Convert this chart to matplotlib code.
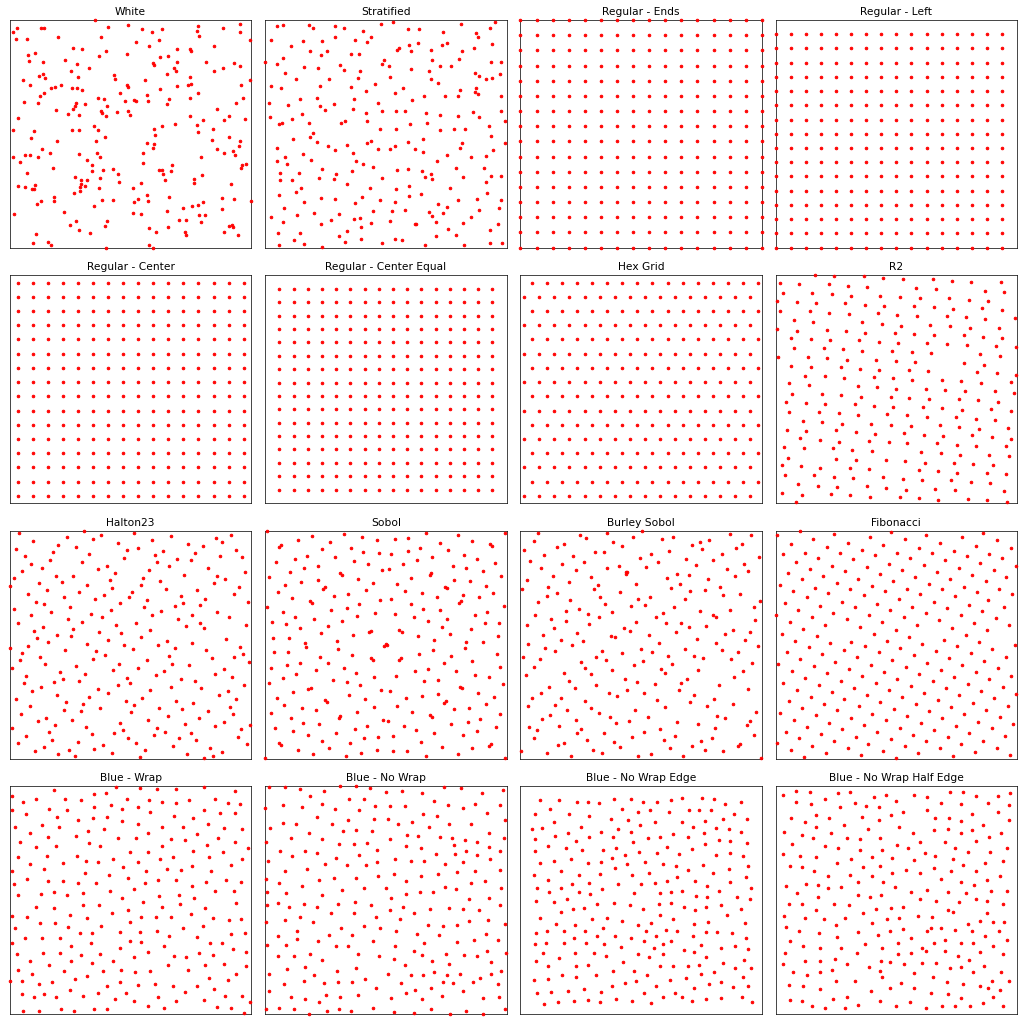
import numpy as np
import matplotlib
matplotlib.use('Agg')
import matplotlib.pyplot as plt

# all coordinates are in percent of the unit square (0..100)

titles = ['White', 'Stratified', 'Regular - Ends', 'Regular - Left',
          'Regular - Center', 'Regular - Center Equal', 'Hex Grid', 'R2',
          'Halton23', 'Sobol', 'Burley Sobol', 'Fibonacci',
          'Blue - Wrap', 'Blue - No Wrap', 'Blue - No Wrap Edge', 'Blue - No Wrap Half Edge']

# regular grids: values along one axis
grid_ends = [0, 6.67, 13.33, 20, 26.67, 33.33, 40, 46.67, 53.33, 60, 66.67, 73.33, 80, 86.67, 93.33, 100]
grid_left = [0, 6.25, 12.5, 18.75, 25, 31.25, 37.5, 43.75, 50, 56.25, 62.5, 68.75, 75, 81.25, 87.5, 93.75]
grid_center = [3.125, 9.375, 15.625, 21.875, 28.125, 34.375, 40.625, 46.875,
               53.125, 59.375, 65.625, 71.875, 78.125, 84.375, 90.625, 96.875]
grid_center_equal = [5.88, 11.76, 17.65, 23.53, 29.41, 35.29, 41.18, 47.06,
                     52.94, 58.82, 64.71, 70.59, 76.47, 82.35, 88.24, 94.12]

hex_y = [3.125, 9.375, 15.625, 21.875, 28.125, 34.375, 40.625, 46.875,
         53.125, 59.375, 65.625, 71.875, 78.125, 84.375, 90.625, 96.875]
hex_x_a = [1.56, 7.81, 14.06, 20.31, 26.56, 32.81, 39.06, 45.31,
           51.56, 57.81, 64.06, 70.31, 76.56, 82.81, 89.06, 95.31]
hex_x_b = [4.69, 10.94, 17.19, 23.44, 29.69, 35.94, 42.19, 48.44,
           54.69, 60.94, 67.19, 73.44, 79.69, 85.94, 92.19, 98.44]

white = [(35.3,100),(1.2,94.9),(2.9,96.6),(13,96.6),(14.3,96.3),(2.5,91.8),(7.2,91.5),(19.7,92.4),(40.6,97.1),
 (37.8,92.7),(49,97.8),(54.8,95.9),(59,94.7),(63.2,96.1),(61.8,91.4),(52.1,90.2),(57.8,88.5),(78.1,97.2),
 (77.5,95),(78.3,93.1),(88.4,96.6),(95.2,98.4),(95.4,94.7),(99.6,91.2),(84.7,88.7),(69.2,87.1),(74.5,87.3),
 (74.9,86.5),(26.3,87.9),(29.8,87.4),(39.6,86.5),(36.9,84.2),(48.3,85.1),(7.3,84.6),(10.3,85.4),(7.9,82),
 (13.5,81.7),(22.6,82.6),(27.6,80.6),(62.1,83.9),(65.5,84.2),(59.2,81),(59.6,80.3),(69.1,81.4),(68,78.9),
 (68.8,77.5),(64.9,76.3),(81.2,81.7),(92.9,81.1),(95.2,80),(88.1,78.7),(84.7,77.5),(25.1,77.5),(28.1,75.1),
 (32.7,78.7),(11.9,75.4),(13.8,76.3),(14.6,74.4),(43,76),(43.4,74.1),(5.4,73.8),(56.1,73.5),(74.8,74.9),
 (73.6,71.3),(75,71.8),(99.6,73.5),(95.9,71.5),(8.4,71.3),(17.1,70.3),(18.8,70.5),(21.1,71.5),(25.5,70.2),
 (27.6,70.2),(29.8,69.3),(48.4,71.6),(48.9,70.5),(62.2,69.7),(69.2,71.1),(77.9,68.1),(74.8,65.9),(96.7,65.9),
 (93.7,63.7),(45.4,67.8),(56.7,67),(57.2,64.5),(51.4,64.9),(52.1,64.6),(36.4,65.5),(39,65.4),(40.1,62.4),
 (47.6,64.2),(65.9,65.4),(64.9,62.9),(12.3,66.5),(14.3,67.7),(5.7,63.9),(11.6,63.5),(27.4,63.5),(26.8,62.1),
 (26.1,60.9),(30.9,62.9),(19.2,60.5),(23.9,58.9),(28.4,58.3),(37.9,59.8),(38.1,59.1),(39.7,57.7),(44.3,59.4),
 (48.8,59.9),(49.8,58.3),(85.7,60.8),(90.9,58),(88.8,56),(97.5,56.6),(80.1,56.1),(74.5,57.7),(68.4,54.1),
 (3.4,57),(1.2,51.8),(9.9,51.2),(8.6,48.2),(25.8,51.8),(28.8,51.6),(34.8,53.5),(36.6,51.5),(39.3,48.4),
 (35.7,46.6),(19.4,46.9),(59.6,52),(62.8,53.2),(60.1,49.4),(77.5,53.9),(77.8,50.9),(84.3,52.3),(83.9,47.2),
 (90.6,48.4),(95.4,46.9),(94.9,44.4),(92.6,42.3),(93.1,40.5),(85.8,43.3),(88.6,41.5),(97.8,36.7),(96,36.3),
 (95.6,34.9),(99.7,20.6),(79,39.6),(79.7,31.7),(56.6,45.9),(59.5,45.3),(59.2,43.7),(55.2,41.7),(55,37.1),
 (67.2,36.3),(66.9,33.6),(61.9,34.1),(62.9,34.1),(63.3,32.2),(64.3,29.7),(1.2,39.9),(6.3,40.8),(8.1,40.5),
 (4.1,37.6),(13.2,43.3),(11.7,39.6),(16.6,41.7),(17.8,35.1),(28.8,41.1),(35.9,41.7),(37.2,39.6),(32.1,38.3),
 (33.8,36.3),(34.1,33.5),(38.5,34.2),(42.5,34.6),(44.7,32.5),(45.2,28.8),(6.9,32.6),(3.2,26.9),(6.3,26.5),
 (9.2,25.6),(10.1,25.7),(10.5,27.6),(26.9,30.8),(29.5,29.7),(29.5,28),(29.2,26.5),(31.2,26.9),(31.9,29.7),
 (29.1,25),(26.6,24),(37.2,30.4),(36.7,26),(50.8,26),(54.1,28.2),(76.1,30.3),(76.4,28.5),(91.7,27.9),
 (87.7,21.9),(92.7,21.5),(56.8,23),(53.2,21.2),(51.6,20),(57.4,20.5),(66.1,22.4),(18.1,22.4),(18.1,20.3),
 (13,20.3),(11.3,19.2),(38.1,20.8),(42.9,20.8),(35,18.1),(1.5,14.8),(22.3,15.8),(51,15.1),(54.1,14.6),
 (65.2,16.1),(71.9,17.5),(75.3,18.4),(77.9,18.6),(80,20),(78.2,14.5),(80.7,14.2),(88,16.8),(70.1,12.1),
 (73.1,12),(79.3,11.3),(40.1,11.5),(39.2,9.4),(27.3,11.5),(25,9.9),(28.8,7.6),(33.2,6.3),(65.5,8.8),
 (57.5,8.5),(60.7,7),(72.6,6.9),(72.8,5.3),(88.7,7),(90.6,9.6),(92.1,9.8),(92.5,9.2),(94.3,5.7),(10.8,5.8),
 (9.5,1.8),(15.6,2.6),(16.9,1.2),(39.6,0),(57.5,1.2),(59.4,0)]

stratified = [(4.8,97.2),(7.4,97.8),(18.3,97.8),(20,96.6),(28.8,97.5),(32.8,96.3),(40.6,95.3),(43.7,92.7),
 (42.3,90.5),(37.4,91.1),(29.1,92.4),(23.7,90.8),(15.7,90.8),(2.2,91.1),(10.5,88.5),(48,98.1),(53.1,99),
 (59.2,95.9),(63.7,96.2),(73.6,94.9),(81.1,98.1),(87.2,94.2),(88,92.4),(93.1,96.3),(95.2,99),(93.8,89.6),
 (63.5,89.9),(59.6,89),(73.3,89),(75.4,89.9),(86.6,87.6),(54.6,87),(55.6,87.6),(60.3,86.3),(68.6,86.8),
 (81.5,86.3),(18.6,86.3),(25.4,86.3),(23.2,84.6),(35.7,85.1),(38.9,85.1),(7.3,83.2),(0,81.4),(4.8,80.7),
 (15.9,79.2),(21.7,78.9),(31,80.3),(32.7,78.1),(39.4,77.5),(38.6,74.7),(49.1,82.3),(48.3,80.6),(51.2,80),
 (60.6,78.4),(69,82.3),(72.6,79.7),(76.9,79.7),(80.4,82.9),(93.5,81.7),(97.8,81.4),(8,76.9),(12.8,74.1),
 (26.3,74.1),(51.7,75),(68,77.5),(68.7,74.1),(71.7,72.2),(86.8,76.6),(88.6,75.6),(91.4,74.1),(94.1,74.4),
 (97.1,76.3),(2.5,71.1),(6.6,69.9),(22.9,71.2),(35.5,70.5),(41.7,68.7),(45.5,71.8),(57.2,70.2),(53.8,67.8),
 (80.7,69.4),(87.2,70.2),(87,68.3),(88,67.3),(97.7,66.5),(1.7,63.7),(9.4,62.6),(14.6,65.1),(21.4,65.6),
 (22.8,62),(24.9,60.5),(28.3,62.9),(36.7,65.1),(36.4,61.1),(41.8,59.1),(46.9,63.5),(48.6,60.2),(54.3,59.9),
 (57.8,60.2),(61,64.9),(65.9,66.8),(74.5,66.8),(80.1,66.8),(66.6,59.1),(72.3,58.3),(79.7,58),(86.1,59.6),
 (88.8,57.2),(97.8,60.2),(99.3,55.4),(1.9,57.5),(5.5,54.2),(6.9,54.8),(11.2,56.6),(15.4,58.9),(18.3,54.7),
 (31.2,54.8),(33.1,55.7),(42.3,55.4),(47.4,52),(54.1,52.3),(60,54.4),(67.2,54.8),(72.3,51.8),(78.1,52),
 (82.6,52.3),(92.6,53.5),(93.4,49),(18.5,48.5),(20,50.4),(11.4,47.5),(21.5,46.2),(26.2,44.7),(28.8,43),
 (33.9,45),(36.3,41.7),(42.3,45.9),(44,46.6),(46.6,43.3),(51.6,43.3),(53.9,44.7),(59.2,46.5),(62.1,43.3),
 (65.5,47.8),(81.5,45.9),(80.9,43.9),(94.5,43),(99.4,45.9),(4.8,43.9),(4.8,38),(8,39.6),(8.9,36.8),
 (15.6,41.2),(18.9,38.5),(37.5,38),(40.6,36.5),(65.5,41.8),(71.2,38),(75.4,40.5),(85.2,39.9),(91.7,40.2),
 (90.8,35.1),(79,34.8),(6.2,32.6),(6.1,29.5),(11.2,29.8),(13.9,32.9),(23.7,34.4),(22.1,30.4),(29.5,32.3),
 (28.6,30.1),(35.9,33.8),(44.8,35.4),(48.3,30.4),(54.6,34.1),(59.2,34.5),(64.9,33.5),(66.3,30.8),(68.8,32.3),
 (69.2,30.1),(81.9,31),(93.5,31.6),(91.7,28.9),(97.8,31.6),(33.7,27.9),(43.6,26.3),(59.4,27.2),(54.3,25.9),
 (76.7,26.3),(5.7,23),(12.6,24.4),(14.9,26),(23.2,21.6),(29.1,21.3),(40.1,22.4),(37.4,19.7),(47.4,20.8),
 (53.8,19.9),(59.7,22.7),(64.6,23.4),(71.7,19),(79.7,21.1),(75.2,17.8),(87.6,21.3),(92.1,23.8),(97.9,20.9),
 (96.7,17.4),(88.6,16.7),(7.7,17.4),(16,20.2),(2.2,13.5),(7.2,11.4),(13.1,14.5),(20.3,15.2),(23.2,10.5),
 (27.4,12.3),(30.5,14.8),(36.7,12.6),(39.4,12.9),(39.7,8.9),(44,10.8),(44.8,16.2),(51.6,11.7),(52.6,15.9),
 (57.8,16.7),(62.1,10.5),(62.6,10.2),(67.7,15.4),(69.1,13.9),(70.6,11.1),(73.7,15.2),(81.8,10.7),(85.1,13.5),
 (96.4,10.5),(93.1,7.9),(75.6,8),(78.9,5.6),(70.6,5),(5.1,6.3),(14.5,6.4),(12,3.2),(5.7,1.3),(16,1.6),
 (23.4,0.4),(30.5,5),(33.7,7.2),(33.1,2.3),(39.7,3.8),(48.6,2),(53.8,3.8),(56.6,3.5),(66.1,1.3),(82.2,1),
 (93.2,1.9),(98.3,2)]

r2 = [(16.3,100),(24.3,99.6),(36.6,99.6),(44.6,99),(52.8,98.4),(65.1,98.4),(73.1,97.8),(81.1,97.2),(93.2,97.2),
 (1.7,96.6),(9.7,96.1),(21.9,96.2),(29.9,95.6),(37.9,95),(58.2,94.4),(66.5,93.9),(86.6,93.3),(94.6,92.7),
 (3,92.1),(15.2,92.3),(23.2,91.7),(31.2,91.1),(43.4,91.1),(51.4,90.5),(59.7,89.9),(71.9,89.9),(80,89.3),
 (88,88.7),(0.6,88.7),(8.7,88.2),(16.6,87.7),(28.8,87.9),(36.8,87.1),(44.8,86.5),(57.2,86.8),(65.4,86),
 (73.4,85.4),(85.5,85.7),(93.7,84.8),(1.9,84.2),(14.2,84.5),(22.2,83.6),(30.2,83),(42.3,83.3),(50.3,82.7),
 (58.5,82),(70.9,82.2),(78.9,81.6),(86.9,80.8),(99.3,81.1),(7.4,80.4),(15.4,79.7),(35.9,79.4),(43.9,78.8),
 (51.9,77.9),(64.1,78.2),(72.3,77.6),(80.4,76.8),(92.6,77),(0.7,76.6),(8.8,75.8),(21.1,76),(29.1,75.4),
 (37.1,74.6),(49.4,74.9),(57.4,74.3),(65.4,73.7),(77.9,73.7),(85.8,73.1),(93.9,72.5),(6.5,72.7),(14.5,72.1),
 (22.5,71.5),(34.7,71.5),(42.6,70.9),(50.6,70.3),(62.9,70.3),(71,69.9),(79.3,69.3),(91.4,69.2),(99.6,68.6),
 (7.7,68.1),(20,68.1),(27.9,67.5),(35.9,66.9),(48.3,66.9),(56.3,66.4),(64.3,65.8),(84.8,65.4),(92.8,64.8),
 (1.1,64.2),(13.4,64.2),(21.4,63.6),(29.4,63),(41.7,63),(49.7,62.4),(57.7,61.8),(77.9,61.4),(86.2,60.8),
 (6.5,60.2),(14.8,59.6),(26.9,59.9),(34.9,59.1),(42.9,58.5),(55.3,58.5),(63.3,57.9),(83.6,57.6),(91.9,57.2),
 (99.7,56.3),(12,55.8),(20.3,55.8),(28.3,55.1),(40.6,55.4),(48.6,54.8),(56.6,53.9),(68.8,54.2),(76.8,53.7),
 (85.1,52.8),(97.5,53.1),(5.4,52.6),(13.7,51.9),(33.9,51.3),(41.8,50.9),(49.9,50),(62.2,50.3),(70.2,49.7),
 (78.3,49.1),(90.8,49.1),(98.8,48.5),(6.8,48),(19.2,48),(27.2,47.4),(35.2,46.8),(47.6,46.8),(55.4,46.2),
 (63.4,45.8),(75.9,45.8),(83.9,45.2),(92,44.6),(4.3,44.6),(12.4,44),(20.6,43.4),(32.8,43.4),(40.8,42.8),
 (48.8,42.3),(61.1,42.4),(69.1,41.8),(77.2,41.1),(89.1,41.2),(97.5,40.5),(5.7,40.1),(17.9,40.1),(26.2,39.5),
 (34.2,38.9),(46.3,39.2),(54.3,38.6),(62.5,37.7),(74.8,38),(82.8,37.1),(90.9,36.5),(11.3,36.1),(19.3,35.5),
 (27.6,34.9),(39.6,34.9),(47.6,34.4),(55.9,33.8),(68.1,34.1),(76.1,33.2),(84.1,32.6),(96.3,32.9),(4.6,32.2),
 (12.7,31.6),(24.8,31.9),(33.1,31),(41.1,30.4),(53.2,30.7),(61.3,30.1),(69.4,29.4),(81.5,29.7),(89.8,28.8),
 (97.7,28.2),(10.2,28.5),(18.2,27.9),(26.3,27),(38.6,27.3),(46.8,26.8),(54.6,26.2),(66.9,26.5),(75,25.6),
 (83,25.1),(95.3,25.1),(3.6,24.6),(11.6,24),(23.7,24),(31.7,23.4),(40.1,22.8),(60.3,22.4),(68.3,21.8),
 (76.3,21.2),(88.6,21.2),(96.6,20.6),(5,20),(25.1,19.4),(33.4,18.9),(45.7,18.9),(53.7,18.3),(61.7,17.8),
 (73.8,17.8),(81.8,17.3),(89.9,16.7),(2.5,16.7),(10.5,16.1),(18.5,15.5),(30.6,15.5),(38.6,14.9),(59.2,14.5),
 (67.3,13.9),(75.3,13.3),(87.4,13.3),(95.6,12.7),(3.7,12.1),(16,12.4),(24,11.5),(32,10.9),(44.3,11.3),
 (52.6,10.4),(60.7,9.9),(72.8,10.2),(80.8,9.4),(88.8,8.8),(9.4,8.5),(17.4,7.6),(25.4,7),(37.7,7.3),
 (45.8,6.4),(53.8,5.8),(66.1,6.1),(74.1,5.6),(94.5,5.1),(2.8,4.2),(10.8,3.7),(22.9,3.9),(30.9,3.4),
 (38.9,2.5),(51.4,2.8),(59.4,2.2),(67.4,1.5),(79.7,1.8),(87.7,1.2),(95.9,0.3),(8.3,0.6)]

halton23 = [(3.7,99),(30.5,99.9),(51.6,99.3),(66.9,97.6),(91.7,98.4),(9.5,95.6),(23.6,97.2),(34.3,96.3),
 (37.8,98.1),(44.8,94.7),(59,96.2),(73.9,94.4),(85.4,96.9),(88,95.3),(2.6,92.1),(6.3,89),(17.9,90.8),
 (20.1,93.9),(27.2,93),(32.9,89.9),(48.3,91.7),(47.2,88.3),(53,92.7),(60,89.3),(63.4,91.1),(69.2,87.7),
 (76.8,90.2),(75.2,87.1),(80,93.6),(86.9,89),(93.8,91.8),(96.1,88.5),(16.7,87.4),(8.6,85.7),(13.2,83.9),
 (4.9,82.6),(1.5,79.2),(0.1,75.9),(29.7,86.5),(36.4,83.2),(40,84.8),(43.7,81.7),(19.2,80.4),(26.1,80),
 (11.9,77.3),(21.4,77.5),(31.9,76.2),(41.4,78.4),(42.3,75),(61.1,86.3),(57.5,82.9),(55.3,79.5),(54.1,76.2),
 (62.2,77.8),(65.7,84.5),(64.8,74.7),(72.3,80.7),(81.9,83.6),(85.8,80.3),(89.3,78.7),(84.4,77.2),(97.2,82),
 (95,75.6),(77.4,74),(7.3,72.5),(15.5,74.1),(28.6,73.2),(22.5,71.1),(35.4,70.2),(38.8,71.8),(50.5,73),
 (49.5,70.8),(45.8,68.3),(56.6,69.6),(55.7,66.5),(70.8,71.3),(71.7,68.3),(68.3,66.9),(80.9,70.3),(78.6,67.3),
 (92.8,72.1),(98.5,68.9),(10.6,68.9),(14.3,67.7),(1.8,65.9),(24.8,66.8),(8.8,62.9),(16.9,64.2),(24.1,61.1),
 (33.5,63.3),(38.1,62),(41.7,65.1),(29.8,60.2),(58.9,63),(62.6,64.8),(69.5,61.4),(73.1,58.3),(75.4,63),
 (78.9,59.5),(80.3,57.5),(85.9,64.5),(90.8,62.3),(97.8,58.8),(3.2,59.4),(10.1,56),(11,52.9),(13.5,57.7),
 (19.3,54.1),(26.3,56.9),(25.2,53.8),(15.9,51.2),(7.6,49.6),(5.1,46.2),(4.1,43.1),(0,48.5),(0.7,39.6),
 (36.9,55.7),(43.9,58.6),(46.2,55.1),(52.1,59.6),(58.1,56.6),(54.5,53.2),(40.6,51.9),(32.1,50.4),(22.8,47.8),
 (12.4,44.6),(14.6,41.4),(35.7,47.1),(34.5,43.9),(39.3,45.3),(47.3,50.1),(50.8,48.2),(45.2,41.5),(56.7,43.3),
 (61.5,49.9),(65.1,51.5),(68.4,48.4),(66.1,45),(67.3,41.7),(75.6,50.7),(81.4,47.5),(83.7,44.2),(89.5,52.6),
 (92.9,44.7),(95.4,49),(96.7,45.8),(98.9,42.5),(6.6,36.3),(5.9,33),(9.2,29.8),(12.7,31.3),(20.6,38),
 (18.3,33.6),(21.8,34.8),(27.4,40.5),(30.9,37.1),(28.7,33.9),(19.6,27.9),(36.3,30.6),(32.7,27),(42.9,38.7),
 (48.7,35.4),(49.7,33.3),(44.6,32.2),(40.7,28.8),(53.2,39.9),(60.6,36.8),(64,38.5),(70.8,35.1),(66.6,31.6),
 (58.2,30),(54.6,26.8),(74.3,41.1),(76.8,34.1),(79.3,30.8),(85,37.3),(88.6,39.2),(92,35.8),(90.2,29.5),
 (97,32.5),(2.5,26.3),(8.3,23.1),(4.6,19.7),(1,13.5),(11.7,16.4),(15,18),(18.6,14.9),(23.4,24.7),(22.2,21.3),
 (25.5,17.1),(30.2,24),(29.4,20.8),(31.3,14),(37.4,22.4),(47.9,25.4),(51.4,23.5),(50.3,20.3),(45.5,15.6),
 (46.8,12.4),(61.8,22.2),(65.5,18.6),(69,25.1),(71.2,21.8),(75.9,24.3),(78.3,17.8),(81.9,20.9),(86.6,27.8),
 (93.7,26),(91.2,22.7),(92.3,19.4),(85.1,14.3),(88.7,16.1),(57.4,17.1),(60.8,13.6),(72.6,15.2),(64.1,11.8),
 (59.7,10.4),(69.9,8.8),(74.9,11.1),(76.9,8),(95.9,12.9),(99.3,14.9),(94.5,9.6),(98.1,6.3),(6.8,9.8),
 (3.4,6.6),(16.1,11.5),(17.5,8.2),(14.1,5.1),(10.4,3.4),(20,1.8),(24.4,3.9),(26.8,0.9),(28,7.3),(33.8,10.7),
 (34.8,4.2),(38.5,5.8),(42.1,2.5),(43,11.4),(48.9,9.1),(52.4,7),(55.9,3.7),(53.7,0.7),(67.7,5.4),(73.5,1.9),
 (80.6,0.3),(82.9,4.5),(84.1,1.3),(87.7,2.8)]

sobol = [(0.6,99.9),(32.8,98.7),(66.6,99),(99.4,99.3),(19.4,97.8),(40.3,97.2),(46.2,96.2),(53.7,96.6),(59,96.9),
 (80.1,98.1),(13.7,95.9),(26.9,95),(5.8,93),(6.5,93.9),(72.6,94.7),(85.9,95.6),(93.1,94.2),(94.1,93.4),
 (23.6,92),(35.4,92.7),(40.7,90.8),(47.3,90.5),(52.1,89.9),(59,91.1),(64,92.4),(75.7,91.7),(82.3,89.6),
 (17.4,88.9),(12.3,87.9),(28.8,88.5),(36.8,86.8),(42.6,85.7),(57.1,85.4),(62.9,87.4),(69,88.7),(87.6,87.7),
 (95.3,86),(4.3,86.5),(10.2,82),(16,83.6),(21.9,84.5),(30.9,81.7),(31.7,80.8),(48.6,82.9),(51.2,83.3),
 (68.1,80.7),(68.8,81.4),(77.7,84.8),(83.4,83.6),(90.2,82.5),(97.9,80.3),(1.7,79.9),(14.9,77.5),(21.7,78.6),
 (38.4,78.9),(44.8,77.2),(54.5,76.6),(60.6,79.4),(78.2,78.4),(84.8,77.8),(8.3,76.3),(24.1,74.6),(24.9,75.3),
 (41.8,74.1),(57.9,73.5),(74.6,75.4),(75.2,75),(91.3,75.7),(5.1,73.2),(11,70.5),(28.6,71.6),(34.5,72.1),
 (47.7,69.6),(52,70.2),(65.1,72.7),(71,71.2),(82.1,71.8),(88.6,70.8),(94.3,72.7),(18.5,69.3),(19.3,68.4),
 (0.8,66.7),(39,67.8),(60.6,67.7),(80.3,68.4),(81,69.3),(98.8,67.1),(7.4,64.5),(12.5,62.4),(20.1,61.1),
 (27.4,65.4),(33.9,66.1),(31.9,60.4),(37.9,62.6),(45.5,63.9),(53.8,63.3),(61.5,62),(65.5,65.6),(72.3,65.2),
 (67.3,60.4),(75.4,61.3),(86.9,63),(91.9,64.2),(2.8,59.9),(8.6,58.9),(14.5,57.5),(26.1,58.3),(23,55.1),
 (36.4,54.2),(42.9,55.6),(43.7,56.1),(55.6,56.7),(56.6,55.8),(63.3,53.9),(73.4,58),(76.6,54.8),(85.1,57),
 (91,59.4),(96.8,59.4),(96.4,53.8),(3.3,53.1),(9.9,52.8),(16.4,50.7),(16.8,49),(29.7,51.8),(30.1,48.1),
 (49.9,50.4),(49.2,49.4),(50.5,49.7),(69.9,52),(83.2,51.2),(82.6,48.5),(90.2,51),(3.6,46.6),(9.4,46.9),
 (22.8,44.6),(35.9,45.6),(44,44.3),(44.6,43.4),(55.4,43.1),(56.3,44),(63.9,45.9),(69.7,47.5),(76.8,45),
 (96,46.1),(2.5,39.8),(9.1,40.9),(14.2,42.1),(20.9,38.7),(25.9,41.8),(32.6,39.9),(37.7,37.6),(45.2,35.8),
 (54.1,36.4),(62.1,38.3),(67.3,39.5),(73.9,42),(79,38.5),(85.5,42.7),(86.9,36.7),(92.7,35.7),(97.1,40.4),
 (1.4,33.3),(7.3,35.4),(12.8,37),(27.9,34.6),(33.7,33.6),(39.4,32.5),(48.1,30.1),(51.6,29.7),(65.7,34.1),
 (71.7,34.5),(80.8,31.6),(81.5,30.8),(98.5,32.7),(11.4,29.4),(17.9,30.6),(18.8,31.1),(4.8,26.6),(24.6,25.6),
 (25.4,24.9),(34.8,28.1),(41.4,26),(45,22.7),(58.2,26.5),(64.8,27.6),(71.5,28.5),(73.9,24.3),(74.8,25.1),
 (88.3,28.9),(95,27),(7.9,23.4),(2.2,20),(15.2,22.4),(21.1,21.2),(38.1,20.6),(54.5,23),(60.8,20.3),
 (68.4,19.2),(69.1,18.4),(78.3,21.6),(84.4,22.1),(91.7,23.8),(97.5,19.6),(10.8,17.8),(15.7,15.8),(22.3,15.2),
 (31,18.6),(30.5,18),(42.1,14.2),(48.8,17),(50.8,16.5),(57.4,14.5),(62.5,12.4),(77.2,15.1),(84,16.1),
 (89.1,17.4),(3.9,13.5),(11.7,12),(17.7,10.4),(29.4,11.3),(37.1,13),(41.1,9.1),(46.9,9.4),(52.8,9.9),
 (69.9,11.3),(81.8,10.2),(87.7,12.1),(95.6,13.9),(5.8,6.7),(6.6,6),(23.4,7.9),(26.6,4.8),(35.2,7),(46.3,3.7),
 (64.6,7.3),(73.1,5.1),(85.9,4.4),(92.7,5.6),(93.4,6.3),(13.4,3.9),(20,1.9),(33.4,1.2),(39.7,2.3),(53.1,3.1),
 (58.8,3.2),(66.5,0.9),(79.7,1.8),(0,0.1),(99.4,0.4)]

burley_sobol = [(7.3,99.3),(5.4,95.5),(24.8,98.1),(27.2,96.9),(36,99.3),(38.3,95.3),(41.9,93.3),(46.5,97.2),
 (50.5,99.9),(58.6,96.3),(63.3,97.5),(71,93.7),(74.2,95),(75.2,92.1),(78.2,95.9),(86.8,98.7),(95.4,98.4),
 (91.7,94.4),(89.4,92.4),(1.4,91.7),(15,93.1),(17.9,94.2),(9.7,89.3),(4.1,86.8),(8.7,83.6),(17.2,85.7),
 (21.7,89),(22.8,82.9),(26.2,86.5),(30.8,90.6),(34.5,90.6),(36,83.9),(40.7,84.5),(43.9,82),(44.3,81.9),
 (43.6,81),(49.4,88.2),(54.2,90.1),(51.9,84.2),(57.2,86.3),(61.7,91.4),(68.7,87.6),(72.7,85.1),(79.7,87.3),
 (83.6,89.8),(85.7,83.3),(88.8,80.3),(92.8,85.4),(94.2,82.3),(98.9,88.5),(2.6,78.4),(0.8,74.4),(11.3,75.3),
 (11,71.5),(13.5,80),(15.3,72.7),(20.3,77.6),(29.4,79.7),(32.1,76.3),(30.6,74.3),(33.1,70.8),(35.2,68),
 (41.4,73.2),(47.9,76.9),(48.8,69.9),(51.4,67.3),(53.8,71.2),(60.7,79.2),(62.5,75),(64.9,81.1),(66.1,76.9),
 (69.7,80.6),(70.3,73.5),(68.1,70),(77.7,78.7),(76.4,74),(82.8,75.4),(83.9,71.8),(90.8,72.1),(96.7,66.5),
 (99.4,69.3),(7.3,68.6),(6.2,63),(12.7,61.5),(18.8,64.9),(20.7,69.6),(24.1,65.8),(28.1,63.3),(32.7,62.3),
 (38.1,64.2),(45.7,67),(47.9,60.2),(56.1,62),(59,64),(63.6,66.8),(74.6,64.8),(79.6,62.9),(81.2,62.1),
 (86.9,65.4),(97.4,60.7),(2.8,58.6),(13.7,57.2),(19,60.4),(28.6,59.1),(23.3,55.1),(37.7,53.8),(39.2,53.2),
 (42.8,57.5),(45.2,56),(53.1,54.1),(60.4,59.4),(64.4,55.7),(66.6,59.6),(69.8,57.9),(76.8,58.3),(84.7,54.8),
 (88.1,56.6),(95.3,55.4),(9.4,54.4),(3.3,50.4),(10.1,48.4),(16.7,52),(21.4,49.9),(25.8,51.5),(14.3,47.1),
 (7.9,43.6),(1.1,44.4),(5.4,40.2),(2.2,36.5),(33.9,47.2),(31.2,44.7),(35.6,43.1),(25.1,42.3),(26.8,39.8),
 (29.1,37.1),(37.9,38.7),(42.2,46.2),(49.9,48),(54.6,47),(57.5,50.9),(50.8,42.7),(47,41.1),(58.2,39.2),
 (60,37.7),(61.2,45),(62.8,41.4),(68.1,48.2),(71.9,44.9),(73.1,52.6),(75.6,44.2),(73.7,38.7),(81.1,50.7),
 (83.4,47.7),(87.2,43.9),(90.1,46.9),(93.1,52.3),(98.5,49.6),(95.9,41.9),(92.4,38.5),(17.9,37.7),(20.1,34.1),
 (22.5,31),(11.9,31.4),(8.4,29),(4.8,26.5),(3.3,23),(16.9,26.5),(14.1,23.5),(31.4,32.5),(36.7,28.8),
 (26.8,25.1),(29.3,22.4),(40,27.5),(43.3,34.9),(44.3,30.1),(48.1,33.8),(55.7,32.9),(51.1,28.9),(56.6,25.6),
 (65.7,30.3),(66.4,33.2),(69.1,35.1),(72,28.1),(70.2,24.7),(77.2,23.1),(80.4,26.2),(82.1,32.2),(88.7,35.8),
 (94.5,30.6),(87.9,24.1),(97.5,20.3),(3.6,13.9),(5.7,9.2),(6.8,12.6),(8.8,17.5),(12.3,19.2),(15.9,14.5),
 (19.2,21.1),(22.9,17.1),(25.1,13),(23.4,11),(15.7,6),(18.2,7),(10.9,2.5),(0.4,3.1),(20.8,1),(27.6,8.2),
 (30.2,3.9),(33.8,2.2),(32.7,19.9),(37.2,18.3),(39.4,15.8),(34.8,11.4),(38.8,7.2),(41.1,5.1),(44.8,16.5),
 (47.3,21.3),(46.2,9.6),(51.2,11.7),(53,18.1),(59.7,22.7),(57.7,13),(59.3,8.2),(61.9,4.8),(64.7,15.9),
 (64.1,9.9),(73.4,15.2),(71.2,5.6),(74.8,7.5),(76.3,3.7),(79.3,8.8),(80.7,13.6),(81.4,18.9),(84.8,17.8),
 (84.1,3.1),(90.2,5.6),(91,6.4),(93.7,14.8),(95.2,16.7),(96.6,10.5),(48.6,1.2),(53.9,1.9),(67.4,0.9),
 (99.7,0.3)]

fibonacci = [(0.7,98.1),(9.9,99.9),(24.3,98.7),(47.9,99.6),(62.3,98.4),(86.1,99.3),(15.5,96.6),(38.9,97.5),
 (53.7,96.3),(77.1,97.2),(91.7,96.1),(6.5,94.2),(29.9,94.9),(44.6,93.9),(68,94.7),(82.8,93.6),(21.1,93),
 (35.6,91.8),(59.2,92.7),(97.4,92.4),(12,90.5),(50.1,90.2),(73.8,91.2),(88.3,90.1),(3,89.8),(26.5,90.5),
 (41.1,89.3),(64.7,90.2),(79.2,89),(17.7,88.2),(32.1,87.6),(55.7,88.2),(70.3,87.1),(93.8,88),(8.6,86.5),
 (23.2,84.6),(46.8,85.4),(61.4,85.1),(84.8,86),(99.5,84.8),(14.1,83.3),(37.8,84.2),(52.3,83),(75.9,83.9),
 (90.5,82.7),(5.1,81.4),(28.7,82.3),(43.3,81.1),(66.8,81.9),(81.5,80.8),(19.7,80.1),(34.3,78.9),(57.9,79.9),
 (72.4,78.8),(95.4,79.7),(10.8,78.7),(25.2,77.2),(48.8,78.1),(63.4,76.9),(87,77.8),(1.7,76.3),(16.3,74.9),
 (39.9,75.7),(54.5,74.7),(77.9,75.6),(92.6,74.6),(7.3,73.8),(30.8,74.7),(45.4,73.5),(68.8,74.4),(83.4,73.2),
 (98.1,72.1),(21.8,72.8),(36.4,71.8),(60,72.5),(74.5,71.6),(12.8,70.8),(27.3,69),(50.9,69.9),(65.5,68.7),
 (88,69.6),(3.7,68.4),(18.5,67.1),(41.9,67.8),(56.6,66.8),(80,67.5),(94.6,66.5),(9.4,65.4),(32.8,66.4),
 (47.5,65.2),(71,66.1),(85.5,64.9),(0.3,63.2),(23.9,64),(38.5,62.9),(62.1,63.9),(76.6,62.9),(14.9,62.4),
 (29.4,61.1),(53.1,62),(67.6,60.8),(91.2,61.7),(5.9,60.2),(20.4,58.8),(44,59.9),(58.6,58.8),(82.2,59.6),
 (96.8,58.5),(11.5,56.9),(35,57.8),(49.7,56.6),(73.1,57.5),(87.7,56.3),(2.5,54.8),(17.1,53.8),(40.6,54.7),
 (55.2,53.5),(78.8,54.4),(99,49.9),(8,51.8),(31.4,51),(46.1,51.5),(69.7,52.3),(84.3,51.2),(22.6,50.6),
 (37.1,49.6),(60.7,50.3),(75.3,49.3),(13.7,49.1),(28.1,47.5),(51.7,48.4),(66.3,47.2),(89.8,48.1),(4.6,46.6),
 (19.2,46.1),(42.6,46.8),(57.2,45.3),(80.8,46.5),(95.4,44.7),(10.2,43.6),(33.7,44.4),(48.3,43.3),(71.9,44.2),
 (86.3,43),(1.1,41.5),(24.7,42.4),(39.3,41.2),(62.9,42.1),(77.4,41.1),(15.7,40.5),(30.2,39.3),(53.8,40.2),
 (68.4,39),(92,39.8),(6.6,38.5),(21.2,37.4),(44.8,38.2),(59.4,37.1),(83,37.9),(97.5,36.3),(12.3,35.4),
 (35.7,36.3),(50.3,35.1),(73.9,36),(88.6,34.8),(3.2,33.3),(26.9,34.2),(41.4,33),(65,33.9),(79.6,32.7),
 (17.8,32.3),(32.4,31.1),(56,32),(70.5,30.8),(94.1,31.6),(8.7,30.3),(23.3,29.2),(46.9,30),(61.5,28.9),
 (85.1,29.7),(99.7,28.4),(14.5,27.2),(37.9,28.1),(52.4,26.9),(76,27.8),(90.6,26.5),(5.4,25.1),(28.4,26.2),
 (43.4,24.9),(67.2,25.7),(81.7,24.6),(19.9,24),(34.5,23),(58.1,23.8),(72.7,22.5),(96.3,23.2),(10.9,22.1),
 (25.4,21.1),(49.1,21.8),(63.7,20.8),(87.3,21.5),(1.9,20),(16.6,19),(40,19.7),(54.6,18.7),(78.2,19.6),
 (92.8,18.1),(7.4,17),(31,17.8),(45.7,16.8),(69.1,17.7),(83.9,16.1),(22.1,15.8),(36.7,14.8),(60.3,15.6),
 (74.8,14.5),(98.5,15.2),(13.1,13.9),(27.6,12.9),(51.3,13.6),(65.8,12.6),(89.5,13.3),(4.1,11.8),(18.6,10.8),
 (42.1,11.5),(56.8,10.4),(80.3,11.4),(95,9.9),(9.7,8.8),(33.1,9.6),(47.9,8.6),(71.3,9.5),(85.9,7.9),
 (0.6,6.7),(24.3,7.6),(38.1,6.4),(62.3,7.5),(76.8,6.3),(15.2,5.7),(29.9,4.5),(53.4,5.4),(68,4.4),(91.6,4.8),
 (6.2,3.7),(20.8,2.5),(44.3,3.4),(59,2.2),(82.5,2.8),(97.1,1.6),(11.7,0.6),(35.2,1.5),(49.9,0.3),(73.4,1.2)]

blue_wrap = [(18.1,98.4),(44.1,99.9),(53.7,99.3),(60.8,98.7),(68.6,99),(80.4,99.9),(93.1,97.8),(1,95.6),
 (34.9,96.9),(39.9,97.2),(10.6,94.4),(23,94.7),(29.4,94.2),(48.4,94.4),(57.5,94.2),(63.2,93),(68.6,92.7),
 (74.3,94.2),(85,94.7),(90.3,92.7),(95.2,92.1),(5.2,93),(34.9,91.1),(41.8,91.7),(53.2,90.8),(1,89.6),
 (6.6,87.9),(16.1,89.9),(23.6,89.6),(19.3,86.8),(28,85.4),(34.6,86),(40,86.8),(46.6,90.2),(46.5,84.8),
 (58.1,89),(68.1,87.1),(76,86.3),(80.3,89.6),(86.9,88.5),(93.4,88.2),(2.1,82.3),(13.1,83.2),(20.4,82),
 (38.8,81.1),(32.3,80.3),(53.2,83.6),(57.1,79.7),(62.8,82),(71.9,82.3),(82.1,83.6),(88.6,81.7),(96.3,81.1),
 (8.1,79.4),(15.6,77.8),(27.2,78.4),(44.7,77.2),(52.4,77.5),(66.9,76.9),(72.6,76.6),(77.7,78.9),(81.8,74.4),
 (86.1,77.5),(93.4,75.4),(4.1,75.7),(10.6,73.5),(19,73.8),(32.6,75),(37.2,73.8),(62.8,73.8),(98.8,72.9),
 (49.8,71.1),(57.2,71.1),(76,71.6),(88.1,71.3),(3.4,69),(15.3,69.3),(27.6,69.6),(31.4,67.3),(36.4,66.8),
 (42.5,68.1),(53.1,66.7),(62.2,68.1),(67.7,68.9),(82.3,68.9),(96.3,68.1),(8.1,66.1),(22.1,66.5),(14.1,63.9),
 (0.7,62.8),(31,61.8),(46.9,64.6),(56.3,63),(64.9,63.7),(70.8,63.2),(75.6,65.2),(83.2,62.9),(91.7,65.6),
 (6.9,59.2),(15.6,58.6),(22.1,58.6),(28.1,57.6),(35.5,57.6),(41.2,61.1),(48.9,59.6),(56.1,57.6),(61.5,58.8),
 (69,58.8),(75.6,56.4),(81.1,58),(89.7,58.8),(95.7,58),(1.8,57),(3.2,52.2),(12.7,52.8),(18.1,53.7),
 (23.6,52.5),(30.1,53.2),(41.5,53.9),(51.3,54.8),(46.3,50.9),(55.3,49.1),(61.7,51.9),(70,52.3),(76.4,51),
 (85.1,53.9),(93,53.9),(10.6,47.1),(18.3,46.5),(30.1,47.7),(36.8,47.7),(49.1,45.9),(63,47.1),(70.3,48.2),
 (80.8,46.6),(93.8,48.8),(0.7,43.1),(6.9,42.8),(12.4,40.2),(18.6,39.9),(24.8,43.4),(23.9,38.3),(31.9,42.4),
 (42.1,44.3),(37.9,38.6),(49.8,40.6),(54.5,42.8),(60.4,42.8),(66.8,42.8),(74.9,44),(71.7,37.7),(80,38.6),
 (84,42.3),(90.6,41.4),(95.6,41.9),(2.1,38),(6.1,33.6),(13.1,33.6),(20.6,33.6),(29.1,35.5),(34.1,35.8),
 (45.4,36.1),(53.8,36.1),(61,36.3),(66.1,34.4),(77.5,33.8),(91.4,35),(97.2,35.7),(1,31.3),(2.8,26.2),
 (13.7,26.9),(20.8,26.9),(25.1,30.1),(29.5,26),(33.4,31),(37.5,26.5),(45.5,28.8),(49.7,32.3),(54.5,31.6),
 (57.2,27.2),(51.2,25.1),(63.7,29.7),(68.1,25.6),(72.8,25.1),(78.3,26.8),(82.8,31),(88,31.3),(84.3,26),
 (92.6,28.5),(97.7,27.3),(8.3,23.4),(16.1,21.5),(25.4,23.5),(33.8,22.2),(42.9,23.4),(3.4,19.2),(9,17.5),
 (22.3,18.9),(32.1,16.5),(38.6,18.9),(46.1,19.4),(51.9,18.6),(57.9,18.9),(65.5,21.5),(73.7,19.2),(80.7,21.5),
 (88.7,21.8),(97.7,20.9),(93.7,17.8),(0,14.5),(5.1,14.5),(12.1,13.3),(17.5,14),(26.8,15.6),(45.5,14),
 (40.3,12.1),(48.1,9.4),(53.1,12.7),(59.9,13.3),(67.6,12.4),(72.4,9.6),(77.7,12.1),(82.3,15.8),(84.7,10.8),
 (90.2,14.9),(4.9,8.8),(9.8,7.3),(14.3,8.8),(19,7.3),(24.7,10.7),(30.3,7.9),(36.6,9.1),(43.4,6.7),(51.2,5.7),
 (61.5,7.6),(68.6,5.8),(80.3,6.3),(89.1,7.9),(96,7.9),(99.3,5.1),(5.2,1.5),(11.9,1.5),(21.1,2.3),(26.5,1.5),
 (34.8,2.3),(40,2.2),(57,3.4),(63.9,2.8),(85.9,3.1),(91.4,2.8),(96.8,0.6)]

blue_no_wrap = [(1.4,99.6),(8.3,99.9),(14.5,99),(24.3,97.8),(30.9,100),(37.8,100),(43.4,99.3),(50.1,97.5),
 (56.8,98.1),(64.8,97.2),(73.9,99.6),(81.2,99.3),(89.7,97.2),(98.5,98.4),(18.5,95.6),(34.6,94.7),(40.8,94.7),
 (69.8,93.6),(0,90.5),(7.2,91.8),(15.4,91.1),(23.4,92.1),(29.1,90.2),(38.9,89.6),(45.5,91.5),(51.7,91.4),
 (57.8,91.4),(75.7,91.8),(81.9,90.5),(86.9,92.4),(97.4,91.8),(65.5,87.9),(71.2,87.1),(92,88.2),(21.5,86.8),
 (34.3,85.1),(45.1,85.7),(50.9,85.7),(99.5,85.4),(2.1,81.7),(7.3,83.9),(12.8,83.3),(27.7,83.3),(55.2,83.3),
 (60.8,84.4),(67.9,82.3),(76.3,83.3),(85.1,83.3),(18.2,79.7),(32.1,80.3),(37.8,80.8),(44.3,80.3),(58.8,78.7),
 (63.4,78.4),(72.6,77.9),(77.4,77.2),(82.6,76.6),(92.9,79.4),(98.8,77.2),(0.3,75.7),(10.8,77.2),(23.7,76.9),
 (30.5,74.7),(36.9,74.7),(42.1,75.1),(51.6,76.9),(58.2,73.8),(64.6,73),(78.3,74.1),(87.7,75.4),(92.6,73.2),
 (6.3,71.6),(16.6,71.5),(21.5,70.8),(38.9,69.9),(46.3,71.9),(70.6,70.2),(78.5,70.2),(83.2,71.8),(87.6,69.9),
 (97.5,71.8),(1.2,67.3),(11.2,69.3),(24.8,66.1),(29.4,68.4),(33.7,65.4),(41.7,65.4),(46.2,66.8),(53.7,68.1),
 (60.4,67.3),(65.9,67.3),(74.5,66.1),(82.1,66.8),(93.2,68.1),(8.1,62.9),(17.1,63.9),(28.6,59.9),(37.8,59.9),
 (46.9,60.8),(53.2,61.4),(58.2,58.6),(64.6,60.8),(71.7,61.7),(79.3,62.3),(86.9,62.9),(97.5,63.5),(0.3,59.5),
 (5.7,57.6),(22.3,58.9),(41.1,55.6),(49.9,55.3),(74.5,56),(79.1,54.8),(85.1,57.5),(91.2,58.5),(97.7,55.3),
 (0.7,53.5),(8.8,53.2),(15.4,56.1),(23.7,52.2),(31.9,54.5),(37.3,49.4),(58.2,52.6),(64.1,53.5),(69.7,53.8),
 (84.3,50.4),(92.6,50.9),(0.7,48),(5.2,49),(9.9,47.1),(16,48.2),(21.5,47.1),(27.2,44.6),(30.3,48.5),
 (36.8,44.6),(44,48),(45.7,42.8),(51.6,45.6),(52,50.9),(57,47.1),(61.8,44.2),(68.4,46.3),(76.1,46.6),
 (81.8,46.1),(88.8,45.8),(97.1,48),(0.3,40.4),(8.1,41.5),(14.2,42.5),(19.7,40.4),(31.2,38),(40.9,38.6),
 (47.4,37.9),(55.9,41.8),(54.3,36.5),(62.8,35),(67.5,39.2),(73.7,38.5),(79.4,38.9),(84.6,40.8),(92.3,41.1),
 (99.3,39.5),(5.1,34.1),(0.7,30.4),(8.6,30.4),(13.2,32.9),(13.1,36.5),(21.7,31.9),(26.3,34.9),(35.9,34.6),
 (29.4,29.8),(34.3,29.8),(44.8,32.2),(53.9,29.7),(65.9,31.3),(71.9,34.9),(79.6,31.6),(86.6,32.5),(91.4,35),
 (96.6,32.7),(5.1,25.6),(12,25.7),(18.5,26.2),(23.4,23.7),(38.6,26.3),(47.2,25.7),(53.2,24.3),(61.7,27.6),
 (57.8,21.5),(64.8,25.9),(69.2,23.4),(74.9,26.5),(76.3,21.8),(82.5,26),(87.7,25.4),(92.1,27.8),(93.4,22.8),
 (99.7,26.9),(1.7,17.5),(9,19.7),(16.3,20.5),(20.3,17.3),(29.7,18.7),(37.7,20),(41.5,15.5),(51,17.5),
 (60.3,17.3),(65.2,17.3),(69.8,18.6),(75.2,17.3),(80.8,17.8),(88.9,15.8),(93.7,17.8),(97.6,18.7),(1.4,10.2),
 (7.6,13),(15.9,14.3),(24.3,13.6),(30.1,13.9),(36.1,14.2),(45.8,11.5),(56.1,13.6),(62.1,10.5),(68.6,11.3),
 (73.8,14.2),(77.8,13.5),(81.8,10.2),(86.2,14.2),(96.3,13),(10.8,7.6),(16.6,6.4),(22.1,5.1),(25.2,8.3),
 (30.9,7.6),(38.6,8.5),(52.1,7),(58.3,9.4),(65.1,6.4),(73.4,7.9),(90.2,7),(96.7,7.6),(0.3,2),(5.8,2.5),
 (12,2.3),(18.3,0),(25.5,1.2),(30.6,2.2),(35.7,1.2),(44.8,2.5),(53.2,0.9),(61.7,0.3),(68.8,2.2),(76.6,0),
 (83.2,1.5),(90.2,0),(99.4,2)]

blue_no_wrap_edge = [(7.9,94),(16,94),(23.3,93.3),(28,93.4),(32.6,92.8),(38.9,94.6),(45.9,94.3),(50.9,93.4),
 (56.4,93.1),(62.2,94),(66.9,94.9),(75.2,94.9),(80.3,94.3),(84.8,92.5),(91.6,93.1),(6.2,88),(12.4,90.1),
 (20.1,87.7),(28.6,87),(41.9,90.1),(48.6,88.6),(53.7,89.5),(61.7,88.6),(69.7,89.5),(73.9,89.5),(78.9,89.8),
 (88.4,87.7),(13.7,84.6),(37.5,85.5),(44.6,85.1),(49.6,83),(55.6,84.6),(66.8,84.6),(71.7,82.2),(76.3,84.9),
 (83.9,85.5),(93.9,85.5),(4.6,81.4),(8.9,81.6),(25.1,82.3),(40.3,81.3),(45.7,80.1),(14.2,78.2),(19.6,79.7),
 (28.3,77.9),(33.5,80),(38.5,77.9),(52.7,77.3),(57.9,77.9),(63.3,79.1),(69.4,77.9),(75.9,79.5),(81,81.9),
 (86.4,81.3),(91.6,80.1),(5.9,76.8),(22.8,76.2),(46.8,75.4),(82.1,76.5),(87,75.9),(76.6,74.9),(93.9,75.1),
 (5.9,71.6),(11.3,73.7),(18.8,73.1),(25.5,72.2),(34.2,72.1),(39.6,73.1),(49.2,71.3),(56.6,70.9),(60.6,73.5),
 (65.7,70.3),(71,72.5),(81.1,69.7),(87,70.6),(92.1,69.4),(43.3,70),(8,66.2),(13.7,67.3),(21.1,68),(28.1,66.4),
 (33.2,66.7),(37.9,68.6),(44.3,65.8),(51.6,66.7),(59,65.9),(64.4,65.2),(69.4,63.5),(75.6,65.5),(39.3,64),
 (86.5,63.7),(94.5,64.9),(5.8,61.3),(16.9,62.7),(24.4,61.3),(33,61.5),(46.1,61),(53.4,61.8),(64.9,60.1),
 (79.9,62.1),(93.4,60.1),(11.6,58.9),(21.4,57.3),(28.4,57.7),(40.6,57),(50.1,57.3),(55.6,57.6),(60.8,58.5),
 (72.4,58.5),(87,58.2),(6.9,55.3),(11.9,53.7),(16.7,55.3),(24.4,53.7),(28.9,52.8),(33.9,54.8),(47,53.1),
 (57.8,53.4),(62.3,53.5),(67,53.9),(77.4,56.1),(77.4,51.3),(82.2,53.9),(95.6,55.4),(6.6,49.6),(13.8,49.1),
 (19.3,50.6),(31.6,48.4),(38.8,48.8),(45.2,47.7),(50.8,46.3),(57.5,48.2),(62.2,48.8),(67.9,46.9),(72.4,45.9),
 (72.8,52),(77,46.9),(83,48),(89.7,51.6),(95,50.6),(91.6,46.1),(16.8,44.9),(21.7,46.1),(26.2,46.5),(7.9,42.4),
 (29.7,41.8),(35.9,42.4),(41.9,40.9),(57.9,43.4),(63.2,41.8),(85.7,43.4),(14.9,39.5),(22.5,38.9),(34.3,37.7),
 (48.7,39.2),(53.9,40.1),(60.4,37.1),(65,36.7),(71.9,39.5),(77.7,40.6),(93.1,40.1),(6.5,35.8),(11,36.4),
 (18.2,36.7),(26.9,36.4),(31.9,34.4),(39,34.4),(45.9,33.3),(51.9,36.3),(56,34.4),(62.5,32.2),(71.7,34.4),
 (76.7,36.1),(81.4,36.1),(87.6,35.8),(93.4,33.6),(6.1,30.6),(10.6,31.3),(18.1,31.3),(22.3,33.6),(27,31.3),
 (34.5,30.7),(41.7,29.4),(51.2,32.2),(55.3,29.1),(59,30.7),(67.6,28.2),(72.1,27.3),(75,30.4),(83,29.1),
 (89.1,29.7),(94.5,28.5),(9.2,26.8),(16,24.6),(22.5,26.8),(30.6,26.8),(35.6,25.4),(48.7,26.5),(53.4,24.9),
 (59.2,26.5),(76.8,24.9),(92.6,23.7),(6.6,23.1),(11.3,21.2),(22.9,21.2),(28.1,21.5),(42.5,23),(57.9,21.2),
 (63.3,21.2),(69.4,21.2),(73.9,21.5),(83.9,22.2),(89,20),(95.4,20),(38.3,18.9),(47.2,19),(17.4,17),
 (22.8,16.1),(31.3,17.3),(52.3,17.3),(74.9,17.5),(80.3,18.3),(92.1,16.4),(5.7,14.9),(11.6,15.5),(43.4,13.6),
 (47.7,14.3),(61.9,14.9),(68.6,15.8),(78.2,13.3),(83.2,14),(94.2,12.1),(19.6,9.9),(26.2,11.1),(33.5,9.8),
 (38.1,12.4),(56.3,12.4),(72,11.5),(88,11.7),(6.8,9.1),(12.7,9.6),(51.3,9.1),(63.9,9.2),(92,7.6),(9.9,4.5),
 (15.6,5.4),(22.1,5.7),(28.1,6.1),(33,5.4),(39.6,6.4),(46.2,5.8),(54.3,4.8),(59,7.5),(66.8,7.5),(71,5.7),
 (77,6.7),(83.3,7),(95.9,5.4)]

blue_no_wrap_half_edge = [(3,96.1),(8.6,97.8),(14.2,97.5),(25.7,97.1),(30.6,97.5),(20.6,94.7),(40.6,95.3),
 (45.5,96.3),(49.9,93.6),(57.4,96.1),(62.9,95.5),(72.3,97.5),(77.7,97.5),(83.2,95.6),(92.3,95.9),(97.1,97.2),
 (8.6,93.3),(14.6,92.4),(26.6,90.8),(32.8,92.7),(37.5,91.5),(42.6,90.8),(68.4,92.7),(76.6,92.1),(87.9,92.7),
 (96.6,91.8),(6.2,86.3),(12.3,84.6),(16.8,87.4),(21.9,86.3),(35.7,86.5),(42.9,85.4),(47.7,87.6),(52.9,88.7),
 (62.6,89.6),(66.1,86.3),(71.7,86.3),(76.8,84.8),(81.4,87.9),(92,89),(96.6,85.4),(3.6,80),(10.8,78.8),
 (16.8,82.3),(22.8,79.4),(28.4,83.2),(38.2,81.4),(51.2,82.3),(57,79.4),(65.7,80.8),(71.3,81.1),(76.8,79.4),
 (81.2,80.8),(85.9,83.2),(93.4,79.7),(15.6,77.2),(29.4,77.3),(34.9,76.8),(43.4,77.2),(70.2,75.4),(82.8,76),
 (88.4,77.8),(6.8,74.6),(20.3,73.7),(25.7,72.8),(35,72.1),(44,72.1),(50.1,74.4),(54.9,72.8),(60,75.4),
 (74.5,72.9),(79.7,71.1),(88.8,71.3),(96,72.9),(3,70.5),(10.2,69.6),(16.6,69),(31.4,68),(40.1,69),(48.1,68.6),
 (57.1,67.8),(61.7,70.9),(66.1,69.3),(73.5,68.3),(86.9,66.4),(94.1,67.3),(5.8,65.2),(11,64.6),(15.7,62.7),
 (25.4,66.4),(36.3,64.6),(43.4,64.9),(48.3,62),(53.8,63.2),(59.9,62.1),(65.7,64),(72.6,62.9),(77.7,65.6),
 (83.2,62.9),(21.7,60.7),(30.6,61.1),(40,60.8),(68.7,59.2),(76.8,57.9),(87.6,58.9),(92.8,60.7),(4.3,56.4),
 (12.7,57),(17.4,56.7),(21.7,55.3),(26.9,55.8),(34.2,57.9),(44.6,57.9),(49.6,55.8),(56,53.7),(62.5,54.7),
 (71.4,53.7),(79,53.2),(82.3,56.7),(89.4,54.1),(95.7,54.1),(8.7,53.2),(17.4,51.3),(34.1,52.5),(39.2,51.6),
 (43.7,52.2),(59.7,50.6),(66.5,49.7),(75.9,49.3),(83,50.6),(87.5,49.7),(5.4,48.2),(10.9,48.2),(16.8,45.8),
 (24.3,48.5),(30.5,48),(36,44.3),(41.5,46.1),(47.6,46.6),(52.6,46.9),(71.4,45.5),(87.5,44.6),(94.1,48.2),
 (3.6,43.1),(12,42.4),(20.1,41.8),(28.6,42.4),(46.1,41.8),(50.9,42.3),(58.8,43.1),(64.8,42.8),(73.4,44.9),
 (79.5,39.5),(84.6,40.9),(90.2,40.6),(94.5,40.6),(4.3,38.2),(9.7,36.3),(18.1,35.5),(24.8,38.9),(34.1,36.1),
 (39.7,40.1),(42.3,34.9),(47.2,36.5),(52.8,37.3),(55.9,33.6),(62.6,36.3),(64.3,37.9),(68.6,37.9),(74.5,37.1),
 (81.4,36.3),(86.9,34.2),(92.6,36.7),(5.9,32.2),(11.5,30),(18.3,28.8),(25.4,33.9),(27.2,28.8),(36.8,30.7),
 (44.1,28.8),(50.8,31),(60.8,29.1),(65.4,31),(70.3,32.7),(76.6,31),(81.8,31),(84.8,27.3),(90.1,30),
 (95.7,32.5),(4,27),(12.1,23.1),(18.3,23.4),(24.4,24),(33.5,26.8),(43.6,23.4),(50.8,26.3),(55.9,26.8),
 (62.3,27.9),(70.2,27.9),(75.7,25.4),(80.1,23.7),(94.3,26.5),(2.9,22.1),(29.7,21.8),(38.5,20.6),(47.2,22.7),
 (53.2,21.8),(60.7,22.4),(66.5,22.4),(72.1,20.3),(76.8,20.6),(86.5,20.9),(7,18.6),(13.1,17.3),(18.3,18.3),
 (23.4,19.2),(43.4,19),(57.1,18),(65.1,16.1),(81.8,18.3),(93.5,18.3),(5.4,12.7),(11.4,12.1),(25.1,14.6),
 (32.8,14.6),(44.1,16.4),(52,13.7),(71,14),(77.7,13),(84.8,12.4),(89.7,14.6),(96.7,14.3),(18.3,10.8),
 (39.4,10.1),(47.3,11.3),(57.1,11.5),(64.3,9.1),(71.2,8.8),(76.7,7),(87.9,11.5),(92.9,10.7),(5.8,6.1),
 (10.8,5.6),(23.7,6.7),(29.4,7.6),(43.4,5.8),(55.7,5.4),(15.2,3.7),(20.6,2.8),(28.6,2.5),(34.3,3.9),
 (49.7,3.4),(62.3,2.5),(68.8,3.4),(74.1,3.7),(80.7,3.4),(85.8,4.8),(90.2,7.3),(94.2,3.4)]


def grid_points(vals):
    gx, gy = np.meshgrid(vals, vals)
    return gx.ravel(), gy.ravel()


def hex_points():
    xs, ys = [], []
    for j, yv in enumerate(hex_y):
        row = hex_x_a if j % 2 == 0 else hex_x_b
        xs += row
        ys += [yv] * len(row)
    return np.array(xs), np.array(ys)


def split(pts):
    a = np.array(pts, dtype=float)
    return a[:, 0], a[:, 1]


panels = [split(white), split(stratified), grid_points(grid_ends), grid_points(grid_left),
          grid_points(grid_center), grid_points(grid_center_equal), hex_points(), split(r2),
          split(halton23), split(sobol), split(burley_sobol), split(fibonacci),
          split(blue_wrap), split(blue_no_wrap), split(blue_no_wrap_edge), split(blue_no_wrap_half_edge)]

# the original was drawn at 16x16 in and shrunk to 1024 px, so sizes are scaled by 0.64
k = 0.64
fig, axes = plt.subplots(4, 4, figsize=(10.24, 10.24), dpi=100)
fig.subplots_adjust(left=10 / 1024, right=1017 / 1024, bottom=10 / 1024, top=1 - 20 / 1024,
                    wspace=0.058, hspace=0.123)

for ax, title, (px, py) in zip(axes.ravel(), titles, panels):
    # zorder above the spines so dots sitting on the frame stay red
    ax.plot(px, py, '.', color='red', markersize=6 * k, markeredgewidth=1 * k,
            clip_on=False, zorder=3)
    ax.set_xlim(0, 100)
    ax.set_ylim(0, 100)
    ax.set_xticks([])
    ax.set_yticks([])
    ax.set_title(title, fontsize=12 * k, pad=6 * k)
    for sp in ax.spines.values():
        sp.set_linewidth(0.8 * k)

fig.savefig('out.png', dpi=100)
